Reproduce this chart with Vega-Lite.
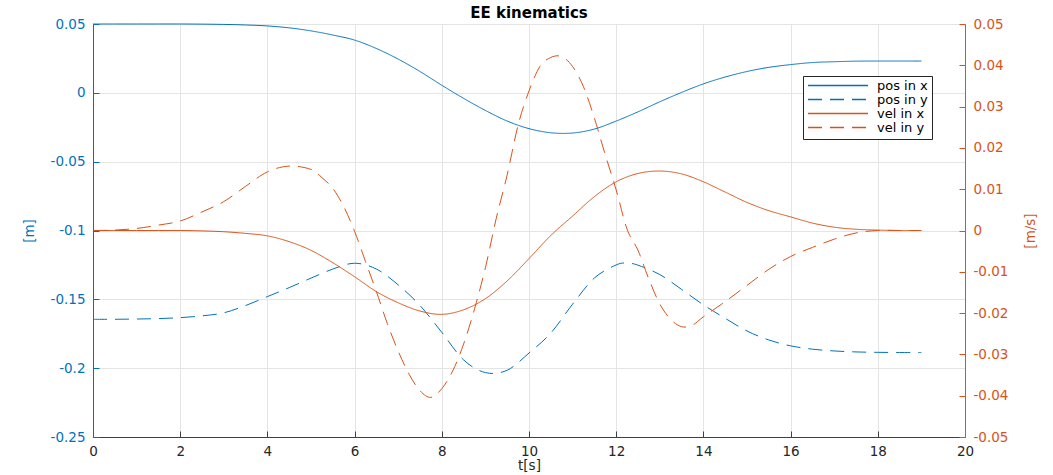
{
  "$schema": "https://vega.github.io/schema/vega-lite/v6.json",
  "width": 872,
  "height": 413,
  "autosize": {"type": "none"},
  "padding": {"left": 93, "top": 24, "right": 88, "bottom": 38},
  "background": "white",
  "title": {"text": "EE kinematics", "font": "DejaVu Sans", "fontSize": 15, "fontWeight": "bold", "color": "#000000", "anchor": "middle", "offset": -4},
  "config": {
    "view": {"stroke": "#d6d6d6"},
    "axis": {"labelFont": "DejaVu Sans", "labelFontSize": 13.5, "titleFont": "DejaVu Sans", "titleFontSize": 13.5, "titleFontWeight": "normal", "tickSize": -6, "gridColor": "#e4e4e4", "gridWidth": 1, "domainWidth": 1, "tickWidth": 1},
    "legend": {"orient": "none", "legendX": 710, "legendY": 52, "fillColor": "white", "strokeColor": "#262626", "padding": 4, "symbolType": "stroke", "symbolSize": 3600, "symbolStrokeWidth": 1.5, "labelFont": "DejaVu Sans", "labelFontSize": 13, "labelColor": "#000000", "labelOffset": 8, "clipHeight": 11, "rowPadding": 0, "cornerRadius": 0}
  },
  "data": {
    "values": [
      {"t": 0, "s": "pos in x", "v": 0.05}, {"t": 0.5, "s": "pos in x", "v": 0.05}, {"t": 1, "s": "pos in x", "v": 0.05}, {"t": 1.5, "s": "pos in x", "v": 0.05}, {"t": 2, "s": "pos in x", "v": 0.05}, {"t": 2.5, "s": "pos in x", "v": 0.0499}, {"t": 3, "s": "pos in x", "v": 0.0497}, {"t": 3.5, "s": "pos in x", "v": 0.0493}, {"t": 4, "s": "pos in x", "v": 0.0486}, {"t": 4.5, "s": "pos in x", "v": 0.0472}, {"t": 5, "s": "pos in x", "v": 0.045}, {"t": 5.5, "s": "pos in x", "v": 0.042}, {"t": 6, "s": "pos in x", "v": 0.0383}, {"t": 6.5, "s": "pos in x", "v": 0.0322}, {"t": 7, "s": "pos in x", "v": 0.0245}, {"t": 7.5, "s": "pos in x", "v": 0.0155}, {"t": 8, "s": "pos in x", "v": 0.0055}, {"t": 8.5, "s": "pos in x", "v": -0.004}, {"t": 9, "s": "pos in x", "v": -0.0128}, {"t": 9.5, "s": "pos in x", "v": -0.0205}, {"t": 10, "s": "pos in x", "v": -0.026}, {"t": 10.5, "s": "pos in x", "v": -0.029}, {"t": 11, "s": "pos in x", "v": -0.0292}, {"t": 11.5, "s": "pos in x", "v": -0.0263}, {"t": 12, "s": "pos in x", "v": -0.0205}, {"t": 12.5, "s": "pos in x", "v": -0.0138}, {"t": 13, "s": "pos in x", "v": -0.0065}, {"t": 13.5, "s": "pos in x", "v": 0.0003}, {"t": 14, "s": "pos in x", "v": 0.0065}, {"t": 14.5, "s": "pos in x", "v": 0.0115}, {"t": 15, "s": "pos in x", "v": 0.0155}, {"t": 15.5, "s": "pos in x", "v": 0.0185}, {"t": 16, "s": "pos in x", "v": 0.0205}, {"t": 16.5, "s": "pos in x", "v": 0.022}, {"t": 17, "s": "pos in x", "v": 0.0226}, {"t": 17.5, "s": "pos in x", "v": 0.023}, {"t": 18, "s": "pos in x", "v": 0.0231}, {"t": 18.5, "s": "pos in x", "v": 0.0231}, {"t": 19, "s": "pos in x", "v": 0.0231},

      {"t": 0, "s": "pos in y", "v": -0.1645}, {"t": 0.5, "s": "pos in y", "v": -0.1645}, {"t": 1, "s": "pos in y", "v": -0.1643}, {"t": 1.5, "s": "pos in y", "v": -0.164}, {"t": 2, "s": "pos in y", "v": -0.1633}, {"t": 2.5, "s": "pos in y", "v": -0.162}, {"t": 3, "s": "pos in y", "v": -0.1598}, {"t": 3.5, "s": "pos in y", "v": -0.1545}, {"t": 4, "s": "pos in y", "v": -0.148}, {"t": 4.5, "s": "pos in y", "v": -0.1415}, {"t": 5, "s": "pos in y", "v": -0.1346}, {"t": 5.5, "s": "pos in y", "v": -0.128}, {"t": 6, "s": "pos in y", "v": -0.1238}, {"t": 6.5, "s": "pos in y", "v": -0.128}, {"t": 7, "s": "pos in y", "v": -0.1395}, {"t": 7.5, "s": "pos in y", "v": -0.1545}, {"t": 8, "s": "pos in y", "v": -0.174}, {"t": 8.5, "s": "pos in y", "v": -0.194}, {"t": 9, "s": "pos in y", "v": -0.2032}, {"t": 9.5, "s": "pos in y", "v": -0.2015}, {"t": 10, "s": "pos in y", "v": -0.189}, {"t": 10.5, "s": "pos in y", "v": -0.1745}, {"t": 11, "s": "pos in y", "v": -0.1535}, {"t": 11.5, "s": "pos in y", "v": -0.1345}, {"t": 12, "s": "pos in y", "v": -0.125}, {"t": 12.25, "s": "pos in y", "v": -0.1237}, {"t": 12.5, "s": "pos in y", "v": -0.1252}, {"t": 13, "s": "pos in y", "v": -0.132}, {"t": 13.5, "s": "pos in y", "v": -0.1428}, {"t": 14, "s": "pos in y", "v": -0.154}, {"t": 14.5, "s": "pos in y", "v": -0.1638}, {"t": 15, "s": "pos in y", "v": -0.173}, {"t": 15.5, "s": "pos in y", "v": -0.1795}, {"t": 16, "s": "pos in y", "v": -0.1838}, {"t": 16.5, "s": "pos in y", "v": -0.1862}, {"t": 17, "s": "pos in y", "v": -0.1875}, {"t": 17.5, "s": "pos in y", "v": -0.1882}, {"t": 18, "s": "pos in y", "v": -0.1885}, {"t": 18.5, "s": "pos in y", "v": -0.1886}, {"t": 19, "s": "pos in y", "v": -0.1886},

      {"t": 0, "s": "vel in x", "v": 0}, {"t": 0.5, "s": "vel in x", "v": 0}, {"t": 1, "s": "vel in x", "v": 0}, {"t": 1.5, "s": "vel in x", "v": 0}, {"t": 2, "s": "vel in x", "v": 0}, {"t": 2.5, "s": "vel in x", "v": -0.0001}, {"t": 3, "s": "vel in x", "v": -0.0003}, {"t": 3.5, "s": "vel in x", "v": -0.0007}, {"t": 4, "s": "vel in x", "v": -0.0013}, {"t": 4.5, "s": "vel in x", "v": -0.0027}, {"t": 5, "s": "vel in x", "v": -0.0048}, {"t": 5.5, "s": "vel in x", "v": -0.0078}, {"t": 6, "s": "vel in x", "v": -0.0112}, {"t": 6.5, "s": "vel in x", "v": -0.0148}, {"t": 7, "s": "vel in x", "v": -0.0175}, {"t": 7.5, "s": "vel in x", "v": -0.0195}, {"t": 8, "s": "vel in x", "v": -0.0203}, {"t": 8.5, "s": "vel in x", "v": -0.0192}, {"t": 9, "s": "vel in x", "v": -0.0165}, {"t": 9.5, "s": "vel in x", "v": -0.0122}, {"t": 10, "s": "vel in x", "v": -0.0068}, {"t": 10.5, "s": "vel in x", "v": -0.0012}, {"t": 11, "s": "vel in x", "v": 0.0035}, {"t": 11.5, "s": "vel in x", "v": 0.0082}, {"t": 12, "s": "vel in x", "v": 0.0118}, {"t": 12.5, "s": "vel in x", "v": 0.0138}, {"t": 13, "s": "vel in x", "v": 0.0144}, {"t": 13.5, "s": "vel in x", "v": 0.0137}, {"t": 14, "s": "vel in x", "v": 0.0118}, {"t": 14.5, "s": "vel in x", "v": 0.0093}, {"t": 15, "s": "vel in x", "v": 0.0068}, {"t": 15.5, "s": "vel in x", "v": 0.0048}, {"t": 16, "s": "vel in x", "v": 0.0033}, {"t": 16.5, "s": "vel in x", "v": 0.0018}, {"t": 17, "s": "vel in x", "v": 0.0008}, {"t": 17.5, "s": "vel in x", "v": 0.0003}, {"t": 18, "s": "vel in x", "v": 0.0001}, {"t": 18.5, "s": "vel in x", "v": 0}, {"t": 19, "s": "vel in x", "v": 0},

      {"t": 0, "s": "vel in y", "v": 0}, {"t": 0.5, "s": "vel in y", "v": 0.0001}, {"t": 1, "s": "vel in y", "v": 0.0005}, {"t": 1.5, "s": "vel in y", "v": 0.0013}, {"t": 2, "s": "vel in y", "v": 0.0023}, {"t": 2.5, "s": "vel in y", "v": 0.0045}, {"t": 3, "s": "vel in y", "v": 0.007}, {"t": 3.5, "s": "vel in y", "v": 0.0107}, {"t": 4, "s": "vel in y", "v": 0.0142}, {"t": 4.5, "s": "vel in y", "v": 0.0156}, {"t": 5, "s": "vel in y", "v": 0.0148}, {"t": 5.25, "s": "vel in y", "v": 0.0128}, {"t": 5.5, "s": "vel in y", "v": 0.0102}, {"t": 5.75, "s": "vel in y", "v": 0.0058}, {"t": 6, "s": "vel in y", "v": -0.0002}, {"t": 6.25, "s": "vel in y", "v": -0.0075}, {"t": 6.5, "s": "vel in y", "v": -0.0148}, {"t": 6.75, "s": "vel in y", "v": -0.0225}, {"t": 7, "s": "vel in y", "v": -0.0292}, {"t": 7.25, "s": "vel in y", "v": -0.0348}, {"t": 7.5, "s": "vel in y", "v": -0.0388}, {"t": 7.75, "s": "vel in y", "v": -0.0404}, {"t": 8, "s": "vel in y", "v": -0.0383}, {"t": 8.25, "s": "vel in y", "v": -0.034}, {"t": 8.5, "s": "vel in y", "v": -0.0275}, {"t": 8.75, "s": "vel in y", "v": -0.019}, {"t": 9, "s": "vel in y", "v": -0.009}, {"t": 9.25, "s": "vel in y", "v": 0.003}, {"t": 9.5, "s": "vel in y", "v": 0.0135}, {"t": 9.75, "s": "vel in y", "v": 0.0255}, {"t": 10, "s": "vel in y", "v": 0.0338}, {"t": 10.25, "s": "vel in y", "v": 0.0397}, {"t": 10.5, "s": "vel in y", "v": 0.0419}, {"t": 10.75, "s": "vel in y", "v": 0.0421}, {"t": 11, "s": "vel in y", "v": 0.0397}, {"t": 11.25, "s": "vel in y", "v": 0.0348}, {"t": 11.5, "s": "vel in y", "v": 0.0272}, {"t": 11.75, "s": "vel in y", "v": 0.0183}, {"t": 12, "s": "vel in y", "v": 0.0098}, {"t": 12.25, "s": "vel in y", "v": 0.0003}, {"t": 12.5, "s": "vel in y", "v": -0.0048}, {"t": 12.75, "s": "vel in y", "v": -0.0118}, {"t": 13, "s": "vel in y", "v": -0.0178}, {"t": 13.25, "s": "vel in y", "v": -0.0215}, {"t": 13.5, "s": "vel in y", "v": -0.0233}, {"t": 13.75, "s": "vel in y", "v": -0.0229}, {"t": 14, "s": "vel in y", "v": -0.0209}, {"t": 14.5, "s": "vel in y", "v": -0.0172}, {"t": 15, "s": "vel in y", "v": -0.0133}, {"t": 15.5, "s": "vel in y", "v": -0.0094}, {"t": 16, "s": "vel in y", "v": -0.0063}, {"t": 16.5, "s": "vel in y", "v": -0.0041}, {"t": 17, "s": "vel in y", "v": -0.0021}, {"t": 17.5, "s": "vel in y", "v": -0.0006}, {"t": 18, "s": "vel in y", "v": 0}, {"t": 18.5, "s": "vel in y", "v": 0}, {"t": 19, "s": "vel in y", "v": 0}
    ]
  },
  "encoding": {
    "x": {
      "field": "t", "type": "quantitative",
      "scale": {"domain": [0, 20], "nice": false, "zero": false},
      "axis": {"title": "t[s]", "values": [0, 2, 4, 6, 8, 10, 12, 14, 16, 18, 20], "labelExpr": "'' + datum.value", "grid": true, "domainColor": "#404040", "tickColor": "#404040", "labelColor": "#262626", "titleColor": "#262626", "labelPadding": 13, "titlePadding": 1, "labelFlush": false}
    },
    "color": {
      "field": "s", "type": "nominal",
      "scale": {"domain": ["pos in x", "pos in y", "vel in x", "vel in y"], "range": ["#0072BD", "#0072BD", "#D95319", "#D95319"]},
      "legend": {"title": null}
    },
    "strokeDash": {
      "field": "s", "type": "nominal",
      "scale": {"domain": ["pos in x", "pos in y", "vel in x", "vel in y"], "range": [[1, 0], [14, 8], [1, 0], [14, 8]]},
      "legend": {"title": null}
    }
  },
  "layer": [
    {
      "transform": [{"filter": {"field": "s", "oneOf": ["pos in x", "pos in y"]}}],
      "mark": {"type": "line", "strokeWidth": 1, "interpolate": "cardinal"},
      "encoding": {
        "y": {
          "field": "v", "type": "quantitative",
          "scale": {"domain": [-0.25, 0.05], "nice": false, "zero": false},
          "axis": {"orient": "left", "title": "[m]", "values": [-0.25, -0.2, -0.15, -0.1, -0.05, 0, 0.05], "labelExpr": "'' + datum.value", "grid": true, "domainColor": "#0072BD", "tickColor": "#0072BD", "labelColor": "#0072BD", "titleColor": "#0072BD", "labelPadding": 14, "labelFlush": false, "titleAngle": -90, "titleX": -64, "titleY": 206.5, "titleAlign": "center", "titleBaseline": "middle"}
        }
      }
    },
    {
      "transform": [{"filter": {"field": "s", "oneOf": ["vel in x", "vel in y"]}}],
      "mark": {"type": "line", "strokeWidth": 1, "interpolate": "cardinal"},
      "encoding": {
        "y": {
          "field": "v", "type": "quantitative",
          "scale": {"domain": [-0.05, 0.05], "nice": false, "zero": false},
          "axis": {"orient": "right", "title": "[m/s]", "values": [-0.05, -0.04, -0.03, -0.02, -0.01, 0, 0.01, 0.02, 0.03, 0.04, 0.05], "labelExpr": "'' + datum.value", "grid": false, "domainColor": "#D95319", "tickColor": "#D95319", "labelColor": "#D95319", "titleColor": "#D95319", "labelPadding": 14, "labelFlush": false, "titleAngle": -90, "titleX": 65, "titleY": 206.5, "titleAlign": "center", "titleBaseline": "middle"}
        }
      }
    }
  ],
  "resolve": {"scale": {"y": "independent"}}
}
